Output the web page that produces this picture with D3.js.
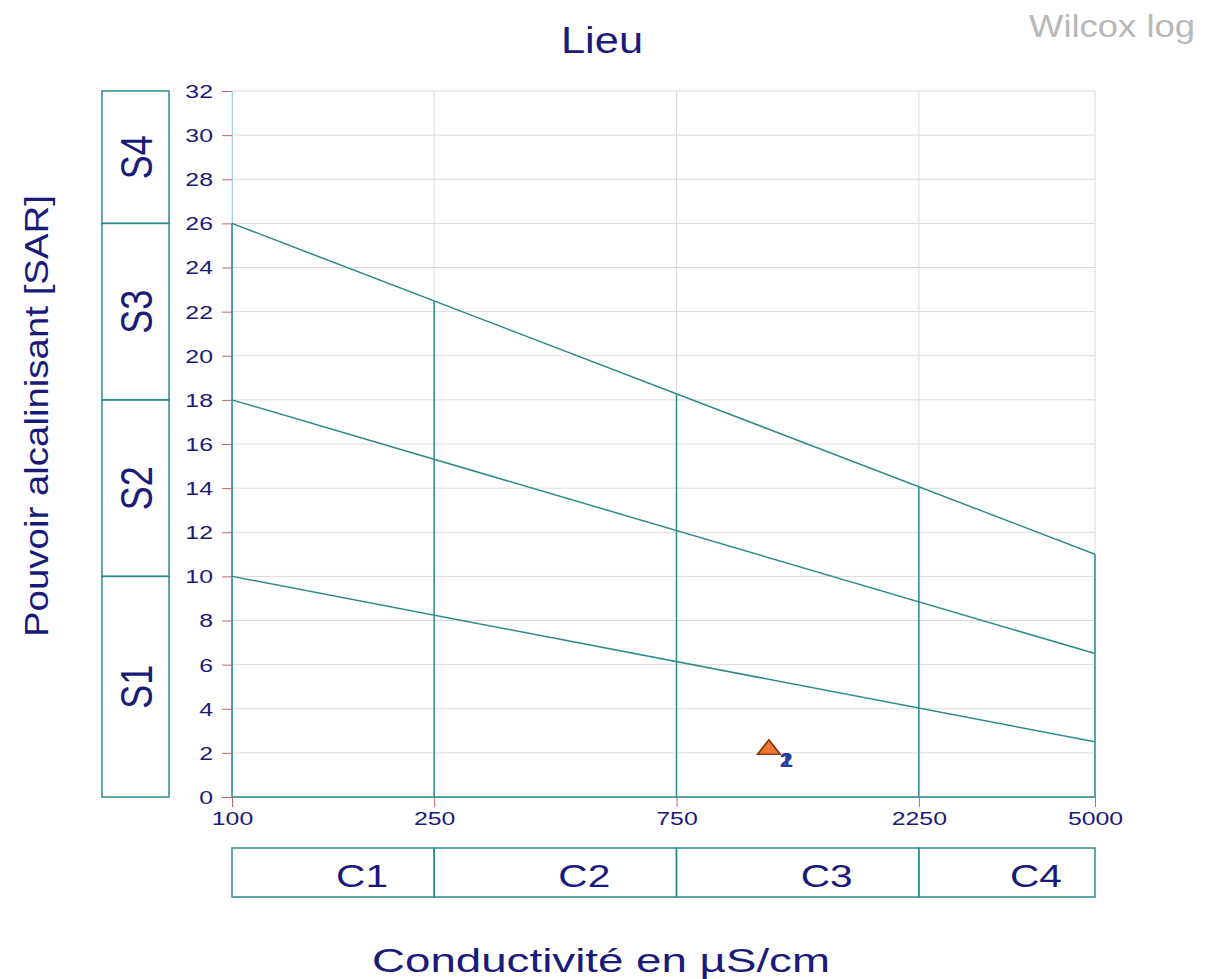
<!DOCTYPE html>
<html><head><meta charset="utf-8">
<script src="https://cdn.jsdelivr.net/npm/d3@7"></script>
<style>body{margin:0;background:#fff}svg{display:block;font-family:"Liberation Sans",Arial,sans-serif}</style>
</head><body><svg id="c" width="1206" height="979"></svg>
<script>
const xTicks = [100, 250, 750, 2250, 5000];
const yTicks = [0,2,4,6,8,10,12,14,16,18,20,22,24,26,28,30,32];
const sarLines = [[10, 2.5], [18, 6.5], [26, 11]]; // SAR at 100 and at 5000 µS/cm
const vLines = [250, 750, 2250];
const sClasses = ["S1","S2","S3","S4"];
const sBounds = [0, 10, 18, 26, 32];
const cClasses = ["C1","C2","C3","C4"];
const cBounds = [100, 250, 750, 2250, 5000];
const samples = ["1","2"];
const sampleCond = [1140, 1140];
const sampleSAR = [2.2, 2.2];

const navy = "#1a1a7a", teal = "#2e8b8b";
const FONT = "Liberation Sans, Arial, sans-serif";
const svg = d3.select("#c");
const L = 232, R = 1095, T = 91, B = 797;
const x = d3.scaleLog().domain([100, 5000]).range([L, R]);
const y = d3.scaleLinear().domain([0, 32]).range([B, T]);

function stretch(sel, k) {
  sel.each(function () {
    const w = this.getComputedTextLength();
    d3.select(this).attr("textLength", w * k).attr("lengthAdjust", "spacingAndGlyphs");
  });
}

// grid
svg.append("g").selectAll("line").data(yTicks).join("line")
  .attr("x1", L).attr("x2", R).attr("y1", d => y(d)).attr("y2", d => y(d))
  .attr("stroke", "#dadada").attr("stroke-width", 1);
svg.append("g").selectAll("line").data(xTicks).join("line")
  .attr("x1", d => x(d)).attr("x2", d => x(d)).attr("y1", T).attr("y2", B)
  .attr("stroke", "#dadada").attr("stroke-width", 1);

// axes
const yAxis = d3.axisLeft(y).tickValues(yTicks).tickSize(10).tickPadding(9);
const gy = svg.append("g").attr("transform", `translate(${L},0)`).call(yAxis);
gy.attr("font-family", FONT);
gy.select(".domain").attr("stroke", "#9fd3dc");
gy.selectAll(".tick line").attr("stroke", "#c86464");
gy.selectAll(".tick text").attr("fill", navy).attr("font-size", 18).attr("dy", "0.36em");
stretch(gy.selectAll(".tick text"), 1.38);

const xAxis = d3.axisBottom(x).tickValues(xTicks).tickFormat(d3.format("d")).tickSize(10).tickPadding(2);
const gx = svg.append("g").attr("transform", `translate(0,${B})`).call(xAxis);
gx.attr("font-family", FONT);
gx.select(".domain").remove();
gx.selectAll(".tick line").attr("stroke", "#c86464");
gx.selectAll(".tick text").attr("fill", navy).attr("font-size", 18).attr("dy", null).attr("y", 28);
stretch(gx.selectAll(".tick text"), 1.38);

// classification lines
const g = svg.append("g").attr("stroke", teal).attr("stroke-width", 1.5).attr("fill", "none");
sarLines.forEach(([a, b]) => {
  g.append("line").attr("x1", x(100)).attr("y1", y(a)).attr("x2", x(5000)).attr("y2", y(b));
});
const sarAt = (line, c) => line[0] + (line[1] - line[0]) * (Math.log(c / 100) / Math.log(50));
vLines.forEach(c => {
  g.append("line").attr("x1", x(c)).attr("x2", x(c)).attr("y1", y(0)).attr("y2", y(sarAt(sarLines[2], c)));
});
g.append("line").attr("x1", x(100)).attr("x2", x(100)).attr("y1", y(0)).attr("y2", y(26));
g.append("line").attr("x1", x(5000)).attr("x2", x(5000)).attr("y1", y(0)).attr("y2", y(11));
g.append("line").attr("x1", x(100)).attr("x2", x(5000)).attr("y1", y(0)).attr("y2", y(0));

// S boxes
const sb = svg.append("g");
sClasses.forEach((s, i) => {
  const y0 = y(sBounds[i]), y1 = y(sBounds[i + 1]);
  sb.append("rect").attr("x", 102).attr("y", y1).attr("width", 67).attr("height", y0 - y1)
    .attr("fill", "none").attr("stroke", teal).attr("stroke-width", 1.5);
  const cy = (y0 + y1) / 2;
  sb.append("text").attr("transform", `translate(152,${cy}) rotate(-90)`).attr("text-anchor", "middle")
    .attr("fill", navy).attr("font-size", 44).attr("textLength", 44).attr("lengthAdjust", "spacingAndGlyphs").text(s);
});

// C boxes
const cb = svg.append("g");
cClasses.forEach((c, i) => {
  const x0 = x(cBounds[i]), x1 = x(cBounds[i + 1]);
  cb.append("rect").attr("x", x0).attr("y", 848).attr("width", x1 - x0).attr("height", 49)
    .attr("fill", "none").attr("stroke", teal).attr("stroke-width", 1.5);
  cb.append("text").attr("x", (x0 + x1) / 2 + 29).attr("y", 887).attr("text-anchor", "middle")
    .attr("fill", navy).attr("font-size", 31).attr("textLength", 52).attr("lengthAdjust", "spacingAndGlyphs").text(c);
});

// samples
const sym = d3.symbol().type(d3.symbolTriangle).size(160);
samples.forEach((s, i) => {
  svg.append("path").attr("d", sym)
    .attr("transform", `translate(${x(sampleCond[i])},${y(sampleSAR[i]) + 1}) scale(1.15,0.85)`)
    .attr("fill", "#f07830").attr("stroke", "#8a3a10").attr("stroke-width", 1.6);
});
samples.forEach((s, i) => {
  svg.append("text").attr("x", x(sampleCond[i]) + 11).attr("y", y(sampleSAR[i]) + 19)
    .attr("fill", "#2a3aa0").attr("font-size", 20).attr("font-weight", "bold").attr("textLength", 13).attr("lengthAdjust", "spacingAndGlyphs").text(s);
});

// titles
svg.append("text").attr("x", 602).attr("y", 53).attr("text-anchor", "middle").attr("fill", navy)
  .attr("font-size", 36).attr("textLength", 82).attr("lengthAdjust", "spacingAndGlyphs").text("Lieu");
svg.append("text").attr("x", 1195).attr("y", 37).attr("text-anchor", "end").attr("fill", "#b8b8b8")
  .attr("font-size", 31).attr("textLength", 166).attr("lengthAdjust", "spacingAndGlyphs").text("Wilcox log");
svg.append("text").attr("transform", "translate(48,416) rotate(-90)").attr("text-anchor", "middle").attr("fill", navy)
  .attr("font-size", 34).attr("textLength", 442).attr("lengthAdjust", "spacingAndGlyphs").text("Pouvoir alcalinisant [SAR]");
svg.append("text").attr("x", 601).attr("y", 972).attr("text-anchor", "middle").attr("fill", navy)
  .attr("font-size", 34).attr("textLength", 458).attr("lengthAdjust", "spacingAndGlyphs").text("Conductivité en µS/cm");
</script></body></html>
